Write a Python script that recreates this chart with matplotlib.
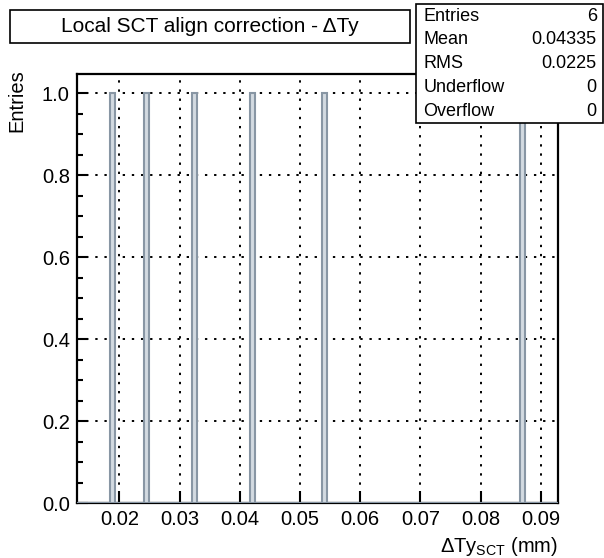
import numpy as np
import matplotlib
matplotlib.use("Agg")
import matplotlib.pyplot as plt
from matplotlib.patches import Rectangle
from matplotlib.ticker import MultipleLocator

plt.rcParams['font.family'] = ['Liberation Sans', 'DejaVu Sans']

# data
values = [0.0190, 0.0248, 0.0327, 0.0421, 0.0543, 0.0870]
x_min, x_max, n_bins = 0.01292, 0.09292, 100
x_ticks = [0.02, 0.03, 0.04, 0.05, 0.06, 0.07, 0.08, 0.09]
x_tick_labels = ["0.02", "0.03", "0.04", "0.05", "0.06", "0.07", "0.08", "0.09"]
y_ticks = [0.0, 0.2, 0.4, 0.6, 0.8, 1.0]
y_tick_labels = ["0.0", "0.2", "0.4", "0.6", "0.8", "1.0"]
stat_names = ["Entries", "Mean", "RMS", "Underflow", "Overflow"]
stat_values = ["6", "0.04335", "0.0225", "0", "0"]
title = "Local SCT align correction - \u0394Ty"

fig = plt.figure(figsize=(6.04, 5.58), dpi=100)
ax = fig.add_axes([0.127, 0.0977, 0.9243 - 0.127, 0.8674 - 0.0977])

bins = np.linspace(x_min, x_max, n_bins + 1)
ax.hist(values, bins=bins, histtype='stepfilled', facecolor='#d3dae1',
        edgecolor='#8896a4', linewidth=1.5, zorder=3)

ax.set_xlim(x_min, x_max)
ax.set_ylim(0, 1.047)
ax.set_xticks(x_ticks)
ax.set_xticklabels(x_tick_labels)
ax.set_yticks(y_ticks)
ax.set_yticklabels(y_tick_labels)
ax.yaxis.set_minor_locator(MultipleLocator(0.05))
ax.tick_params(axis='both', which='major', direction='in', length=8, width=1.5,
               labelsize=14.5, pad=5)
ax.tick_params(axis='y', which='minor', direction='in', length=4, width=1.5)
ax.tick_params(axis='x', which='major', length=9)
for s in ax.spines.values():
    s.set_linewidth(1.6)
ax.grid(True, which='major', color='black', linestyle=(0, (1.2, 3.5)), linewidth=1.4, zorder=1)
ax.set_axisbelow(True)

ax.set_ylabel("Entries", fontsize=14.5, loc='top')
ax.yaxis.set_label_coords(-0.104, 1.01)
ax.set_xlabel("\u0394Ty$_{\\mathregular{SCT}}$ (mm)", fontsize=14.5, loc='right', labelpad=4)

# title box
fig.patches.append(Rectangle((0.0166, 0.923), 0.662, 0.059, transform=fig.transFigure,
                             facecolor='white', edgecolor='black', linewidth=1.2, zorder=5))
fig.text(0.0166 + 0.331, 0.923 + 0.0295, title, ha='center', va='center', fontsize=15, zorder=6)

# stats box
bx0, by0, bw, bh = 0.689, 0.7796, 0.309, 0.213
fig.patches.append(Rectangle((bx0, by0), bw, bh, transform=fig.transFigure,
                             facecolor='white', edgecolor='black', linewidth=1.2, zorder=5))
n = len(stat_names)
for i, (nm, vl) in enumerate(zip(stat_names, stat_values)):
    yy = by0 + bh - (i + 0.5) * bh / n
    fig.text(bx0 + 0.012, yy, nm, ha='left', va='center', fontsize=13, zorder=6)
    fig.text(bx0 + bw - 0.010, yy, vl, ha='right', va='center', fontsize=13, zorder=6)

fig.savefig("out.png", dpi=100)
